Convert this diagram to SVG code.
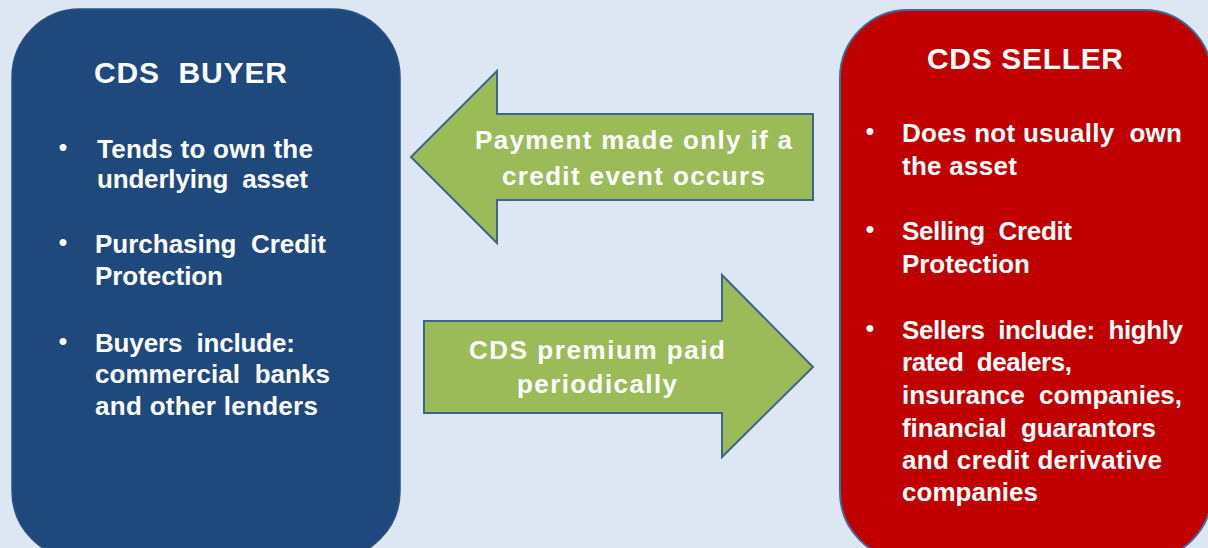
<svg xmlns="http://www.w3.org/2000/svg" width="1208" height="548" viewBox="0 0 1208 548" xml:space="preserve">
  <style>
    .t { font-family: "Liberation Sans", Arial, sans-serif; font-weight: bold; fill: #FFFFFF; white-space: pre; }
    .title { font-size: 30px; }
    .body { font-size: 26px; }
    .bul { font-size: 24px; text-anchor: middle; }
    .arrow { fill: #9BBB59; stroke: #3E6390; stroke-width: 2; stroke-linejoin: miter; }
  </style>
  <rect x="0" y="0" width="1208" height="548" fill="#DDE7F3"/>

  <g id="buyer">
    <rect x="12" y="9" width="388" height="550" rx="68" ry="68" fill="#1F497D" stroke="#2B5283" stroke-width="1.5"/>
    <text class="t title" x="94" y="83" textLength="193" lengthAdjust="spacing">CDS  BUYER</text>
    <text class="t bul" x="63" y="155">•</text>
    <text class="t body" x="97" y="158" textLength="216" lengthAdjust="spacing">Tends to own the</text>
    <text class="t body" x="97" y="188" textLength="211" lengthAdjust="spacing">underlying  asset</text>
    <text class="t bul" x="63" y="250">•</text>
    <text class="t body" x="95" y="253" textLength="231" lengthAdjust="spacing">Purchasing  Credit</text>
    <text class="t body" x="95" y="285" textLength="128" lengthAdjust="spacing">Protection</text>
    <text class="t bul" x="63" y="349">•</text>
    <text class="t body" x="95" y="352" textLength="200" lengthAdjust="spacing">Buyers  include:</text>
    <text class="t body" x="95" y="383" textLength="235" lengthAdjust="spacing">commercial  banks</text>
    <text class="t body" x="95" y="415" textLength="223" lengthAdjust="spacing">and other lenders</text>
  </g>

  <g id="seller">
    <rect x="840" y="10" width="372" height="550" rx="68" ry="68" fill="#C00000" stroke="#41699A" stroke-width="2"/>
    <text class="t title" x="927" y="69" textLength="196" lengthAdjust="spacing">CDS SELLER</text>
    <text class="t bul" x="870" y="139">•</text>
    <text class="t body" x="902" y="142" textLength="280" lengthAdjust="spacing">Does not usually  own</text>
    <text class="t body" x="902" y="175" textLength="115" lengthAdjust="spacing">the asset</text>
    <text class="t bul" x="870" y="237">•</text>
    <text class="t body" x="902" y="240" textLength="170" lengthAdjust="spacing">Selling  Credit</text>
    <text class="t body" x="902" y="273" textLength="128" lengthAdjust="spacing">Protection</text>
    <text class="t bul" x="870" y="336">•</text>
    <text class="t body" x="902" y="339" textLength="281" lengthAdjust="spacing">Sellers  include:  highly</text>
    <text class="t body" x="902" y="371" textLength="170" lengthAdjust="spacing">rated  dealers,</text>
    <text class="t body" x="902" y="404" textLength="280" lengthAdjust="spacing">insurance  companies,</text>
    <text class="t body" x="902" y="437" textLength="254" lengthAdjust="spacing">financial  guarantors</text>
    <text class="t body" x="902" y="469" textLength="260" lengthAdjust="spacing">and credit derivative</text>
    <text class="t body" x="902" y="501" textLength="136" lengthAdjust="spacing">companies</text>
  </g>

  <g id="connectors">
    <g id="payment-arrow">
      <polygon class="arrow" points="411,157 497,71 497,114 813,114 813,200 497,200 497,243"/>
      <text class="t body" x="475" y="149" textLength="317" lengthAdjust="spacing">Payment made only if a</text>
      <text class="t body" x="502" y="185" textLength="263" lengthAdjust="spacing">credit event occurs</text>
    </g>
    <g id="premium-arrow">
      <polygon class="arrow" points="424,321 722,321 722,275 813,367 722,457 722,413 424,413"/>
      <text class="t body" x="469" y="359" textLength="256" lengthAdjust="spacing">CDS premium paid</text>
      <text class="t body" x="517" y="393" textLength="160" lengthAdjust="spacing">periodically</text>
    </g>
  </g>
</svg>
